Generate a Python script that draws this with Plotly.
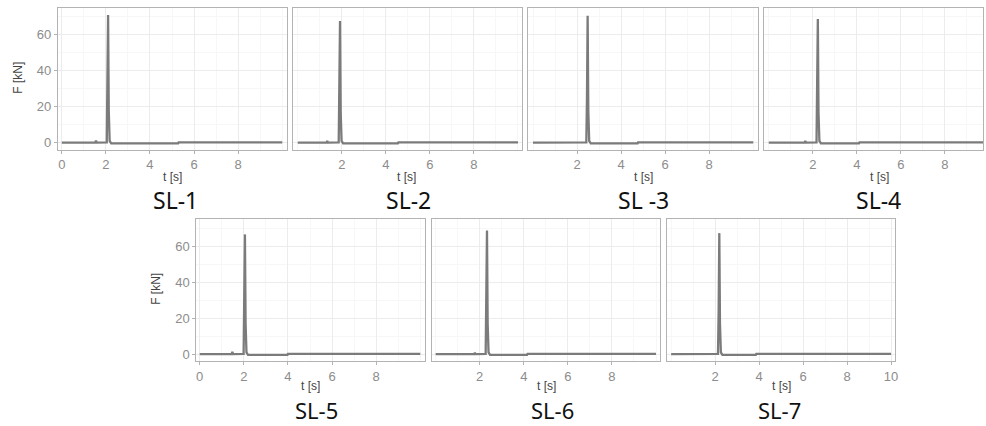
import plotly.graph_objects as go

# Force records of the seven SL tests: time [s] and force [kN]
sl1_t = [0.00, 1.52, 1.55, 1.58, 2.04, 2.07, 2.10, 2.13, 2.17, 2.24, 5.28, 5.30, 10.00]
sl1_f = [0.0, 0.0, 1.2, 0.0, 0.1, 25.0, 71.1, 18.0, 1.0, -0.4, -0.4, 0.1, 0.1]

sl2_t = [0.00, 1.31, 1.34, 1.37, 1.86, 1.89, 1.92, 1.95, 1.99, 2.06, 4.55, 4.57, 10.00]
sl2_f = [0.0, 0.0, 1.0, 0.0, 0.1, 25.0, 67.8, 17.0, 1.0, -0.4, -0.4, 0.1, 0.1]

sl3_t = [0.00, 2.42, 2.45, 2.48, 2.51, 2.55, 2.62, 4.75, 4.77, 10.00]
sl3_f = [0.0, 0.1, 25.0, 70.7, 18.0, 1.0, -0.4, -0.4, 0.1, 0.1]

sl4_t = [0.00, 1.63, 1.66, 1.69, 2.17, 2.20, 2.23, 2.26, 2.30, 2.37, 4.10, 4.12, 10.00]
sl4_f = [0.0, 0.0, 1.0, 0.0, 0.1, 25.0, 68.9, 17.0, 1.0, -0.4, -0.4, 0.1, 0.1]

sl5_t = [0.00, 1.45, 1.48, 1.51, 1.99, 2.02, 2.05, 2.08, 2.12, 2.19, 3.98, 4.00, 10.00]
sl5_f = [0.0, 0.0, 1.3, 0.0, 0.1, 25.0, 66.7, 17.0, 1.0, -0.4, -0.4, 0.1, 0.1]

sl6_t = [0.00, 1.75, 1.78, 1.81, 2.27, 2.30, 2.33, 2.36, 2.40, 2.47, 4.15, 4.17, 10.00]
sl6_f = [0.0, 0.0, 0.8, 0.0, 0.1, 25.0, 68.9, 17.0, 1.0, -0.4, -0.4, 0.1, 0.1]

sl7_t = [0.00, 2.13, 2.16, 2.19, 2.22, 2.26, 2.33, 3.85, 3.87, 10.00]
sl7_f = [0.0, 0.1, 25.0, 67.4, 17.0, 1.0, -0.4, -0.4, 0.1, 0.1]

series_t = [sl1_t, sl2_t, sl3_t, sl4_t, sl5_t, sl6_t, sl7_t]
series_f = [sl1_f, sl2_f, sl3_f, sl4_f, sl5_f, sl6_f, sl7_f]
panel_names = ["SL-1", "SL-2", "SL -3", "SL-4", "SL-5", "SL-6", "SL-7"]
x_ticks = [[0, 2, 4, 6, 8], [2, 4, 6, 8], [2, 4, 6, 8], [2, 4, 6, 8],
           [0, 2, 4, 6, 8], [2, 4, 6, 8], [2, 4, 6, 8, 10]]
y_ticks = [0, 20, 40, 60]

W, H = 986, 426

# panel frames in pixels: (left, right, top, bottom)
frames = [
    (58, 288, 8, 150), (294, 524, 8, 150), (530, 760, 8, 150), (766, 986, 8, 150),
    (197, 426, 220, 362), (433, 662, 220, 362), (669, 898, 220, 362),
]
x_ranges = [[-0.18, 10.22], [-0.21, 10.2], [-0.21, 10.2], [-0.23, 9.73],
            [-0.15, 10.2], [-0.18, 10.18], [-0.19, 10.19]]
y_range = [-3.9, 75]

# label placements in pixels: (t-label x, name x) and row centre lines
label_x = [(173, 176), (408, 410), (645, 645), (882, 881),
           (311, 317), (548, 554), (784, 782)]
row_label_y = [(177, 200), (387, 411)]
name_sizes = [23, 22]

LINE = "#7b7b7b"
BORDER = "#b3b3b3"
GRID = "#ececec"
MINOR = "#f7f7f7"
TICKFONT = dict(family="Liberation Sans, Arial, sans-serif", size=13, color="#8c8c8c")

fig = go.Figure()
annotations = []

for i in range(7):
    n = "" if i == 0 else str(i + 1)
    left, right, top, bottom = frames[i]
    fig.add_trace(go.Scatter(
        x=series_t[i], y=series_f[i], mode="lines",
        line=dict(color=LINE, width=2.3),
        xaxis="x" + n, yaxis="y" + n, showlegend=False,
    ))
    show_y = i in (0, 4)
    fig.update_layout(**{
        "xaxis" + n: dict(
            domain=[left / W, right / W], anchor="y" + n,
            range=x_ranges[i], tickvals=x_ticks[i],
            showline=True, mirror=True, linecolor=BORDER, linewidth=1,
            ticks="outside", ticklen=3, tickcolor=BORDER,
            showgrid=True, gridcolor=GRID, gridwidth=1, zeroline=False,
            minor=dict(dtick=1, tick0=1, showgrid=True, gridcolor=MINOR, gridwidth=1),
            tickfont=TICKFONT, fixedrange=True,
        ),
        "yaxis" + n: dict(
            domain=[1 - bottom / H, 1 - top / H], anchor="x" + n,
            range=y_range, tickvals=y_ticks,
            showticklabels=show_y,
            showline=True, mirror=True, linecolor=BORDER, linewidth=1,
            ticks="outside" if show_y else "", ticklen=3, tickcolor=BORDER,
            showgrid=True, gridcolor=GRID, gridwidth=1, zeroline=False,
            minor=dict(dtick=20, tick0=10, showgrid=True, gridcolor=MINOR, gridwidth=1),
            tickfont=TICKFONT, fixedrange=True,
        ),
    })

    row = 0 if i < 4 else 1
    tx, nx = label_x[i]
    ty, ny = row_label_y[row]
    annotations.append(dict(
        text="t [s]", x=tx / W, y=1 - ty / H, xref="paper", yref="paper",
        xanchor="center", yanchor="middle", showarrow=False, borderpad=0,
        font=dict(family="Liberation Sans, Arial, sans-serif", size=12, color="#444444"),
    ))
    annotations.append(dict(
        text=panel_names[i], x=nx / W, y=1 - ny / H, xref="paper", yref="paper",
        xanchor="center", yanchor="middle", showarrow=False, borderpad=0,
        font=dict(family="Noto Sans, sans-serif", size=name_sizes[row], color="#111111"),
    ))

# y-axis titles for the first panel of each row
for ax, ay in [(18, 78), (157, 290)]:
    annotations.append(dict(
        text="F [kN]", x=ax / W, y=1 - ay / H, xref="paper", yref="paper",
        xanchor="center", yanchor="middle", showarrow=False, textangle=-90,
        font=dict(family="Liberation Sans, Arial, sans-serif", size=12, color="#444444"),
    ))

fig.update_layout(
    width=W, height=H, margin=dict(l=0, r=0, t=0, b=0),
    paper_bgcolor="white", plot_bgcolor="white",
    annotations=annotations, showlegend=False,
)

fig.write_html("out.html")
